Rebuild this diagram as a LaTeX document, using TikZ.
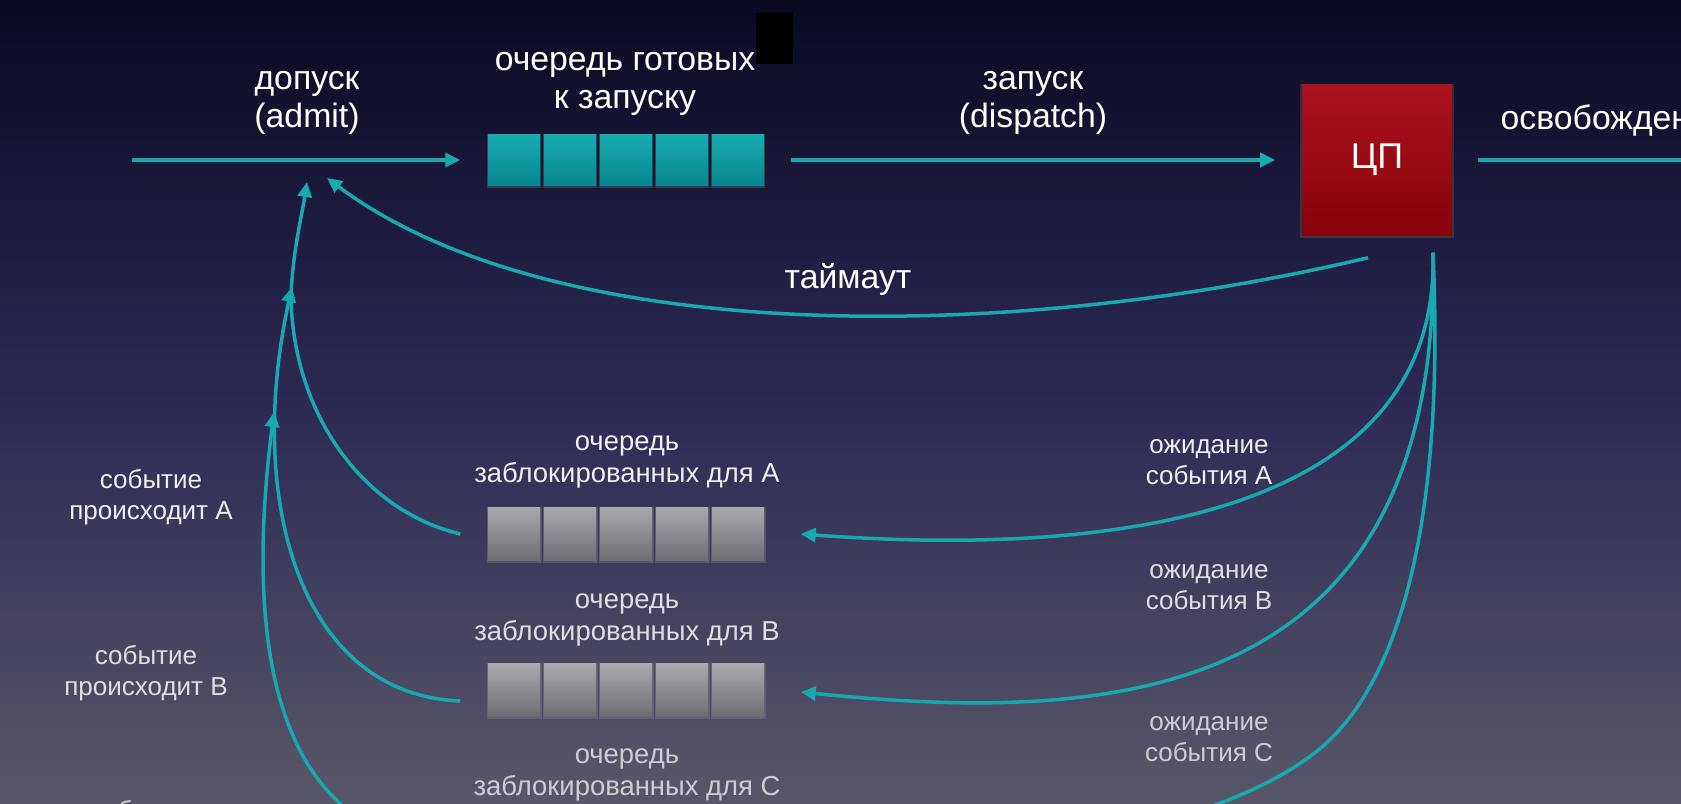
\documentclass[tikz,border=0pt]{standalone}
\usepackage{fontspec}
\setmainfont{Liberation Sans}
\usetikzlibrary{arrows.meta,shadows}
\definecolor{bgTop}{RGB}{9,9,34}
\definecolor{bgMid}{RGB}{44,42,84}
\definecolor{bgBot}{RGB}{88,87,105}
\definecolor{lineTeal}{RGB}{24,168,175}
\definecolor{readyTop}{RGB}{24,172,178}
\definecolor{readyBot}{RGB}{6,134,142}
\definecolor{blockTop}{RGB}{168,170,174}
\definecolor{blockBot}{RGB}{108,110,116}
\definecolor{cpuTop}{RGB}{172,18,32}
\definecolor{cpuBot}{RGB}{136,2,10}
\definecolor{txtA}{RGB}{240,240,244}
\definecolor{txtB}{RGB}{222,222,228}
\definecolor{txtC}{RGB}{205,205,212}
\tikzstyle{readyBox}=[shape = rectangle, minimum width = 0.52cm, minimum height = 0.51cm, inner sep = 0pt, top color = readyTop, bottom color = readyBot, drop shadow = {opacity = 0.3, shadow xshift = 0pt, shadow yshift = -0.01cm, shadow scale = 1.05}]
\tikzstyle{blockedBox}=[shape = rectangle, minimum width = 0.52cm, minimum height = 0.52cm, inner sep = 0pt, top color = blockTop, bottom color = blockBot, drop shadow = {opacity = 0.4, shadow xshift = 0.005cm, shadow yshift = -0.01cm, shadow scale = 1.06}]
\tikzstyle{cpuBox}=[shape = rectangle, minimum width = 1.5cm, minimum height = 1.5cm, inner sep = 0pt, top color = cpuTop, bottom color = cpuBot, text = white, font = \fontsize{10.2}{11}\selectfont, drop shadow = {opacity = 0.25, shadow xshift = 0pt, shadow yshift = -0.01cm, shadow scale = 1.02}]
\tikzstyle{topLabel}=[align = center, text = white, font = \fontsize{9.6}{10.9}\selectfont]
\tikzstyle{lowLabel}=[align = center, font = \fontsize{7.4}{9}\selectfont]
\tikzstyle{queueLabel}=[align = center, font = \fontsize{7.8}{9}\selectfont]
\tikzstyle{tealLine}=[draw = lineTeal, line width = 0.035cm]
\tikzstyle{tealArrow}=[tealLine, -{Triangle[length = 0.15cm, width = 0.14cm]}]
\begin{document}
\begin{tikzpicture}[x = 0.01cm, y = -0.01cm]
\useasboundingbox (0,0) rectangle (1681,804);
\clip (0,0) rectangle (1681,804);
\fill[top color = bgTop, bottom color = bgBot, middle color = bgMid] (0,0) rectangle (1681,804);
\fill[black] (756,13) rectangle (793,64);
\foreach \i in {1,...,5} {
  \node[readyBox] (r\i) at ({458+56*\i},160) {};
  \node[blockedBox] (a\i) at ({458+56*\i},534) {};
  \node[blockedBox] (b\i) at ({458+56*\i},690) {};
}
\node[cpuBox] (cpu) at (1377,160) {ЦП};
\coordinate (in) at (132,160);
\coordinate (out) at (1720,160);
\coordinate (admitT) at (327,178);
\coordinate (admitA) at (307,182);
\coordinate (admitB) at (292,287);
\coordinate (admitC) at (274,412);
\coordinate (holdC) at (461,850);
\coordinate (waitC) at (800,850);
\node[topLabel] (admitText) at (307,103) {допуск\\(admit)};
\node[topLabel] (readyText) at (625,84) {очередь готовых\\к запуску};
\node[topLabel] (dispatchText) at (1033,103) {запуск\\(dispatch)};
\node[topLabel, anchor = west, inner sep = 0pt] (releaseText) at (1500,120) {освобождение};
\node[topLabel] (timeoutText) at (848,279) {таймаут};
\node[queueLabel, text = txtA] (qAText) at (627,462) {очередь\\заблокированных для A};
\node[queueLabel, text = txtB] (qBText) at (627,620) {очередь\\заблокированных для B};
\node[queueLabel, text = txtC] (qCText) at (627,775) {очередь\\заблокированных для C};
\node[lowLabel, text = txtA] (evAText) at (151,497) {событие\\происходит A};
\node[lowLabel, text = txtB] (evBText) at (146,673) {событие\\происходит B};
\node[lowLabel, text = txtC] (evCText) at (141,828) {событие\\происходит C};
\node[lowLabel, text = txtA] (waitAText) at (1209,462) {ожидание\\события A};
\node[lowLabel, text = txtB] (waitBText) at (1209,587) {ожидание\\события B};
\node[lowLabel, text = txtC] (waitCText) at (1209,739) {ожидание\\события C};
\draw[tealArrow, shorten >= 0.27cm] (in) -- (r1);
\draw[tealArrow, shorten <= 0.26cm, shorten >= 0.26cm] (r5) -- (cpu);
\draw[tealLine, shorten <= 0.25cm] (cpu) -- (out);
\draw[tealArrow] ([shift = {(-9,22)}]cpu.south) .. controls (1000,345) and (550,345) .. (admitT);
\draw[tealArrow] ([shift = {(56,17)}]cpu.south) .. controls (1440,500) and (1150,560) .. ([xshift = 0.36cm]a5.east);
\draw[tealArrow] ([shift = {(56,17)}]cpu.south) .. controls (1440,700) and (1120,725) .. ([shift = {(36,2)}]b5.east);
\draw[tealArrow] ([shift = {(56,17)}]cpu.south) .. controls (1445,520) and (1400,680) .. (1322,747) .. controls (1228,827) and (1000,870) .. (waitC);
\draw[tealArrow] ([xshift = -0.27cm]a1.west) .. controls (360,510) and (292,410) .. (291,295) .. controls (293,250) and (302,215) .. (admitA);
\draw[tealArrow] ([shift = {(-27,11)}]b1.west) .. controls (300,695) and (245,500) .. (admitB);
\draw[tealArrow] (holdC) .. controls (270,840) and (245,640) .. (admitC);
\end{tikzpicture}
\end{document}
